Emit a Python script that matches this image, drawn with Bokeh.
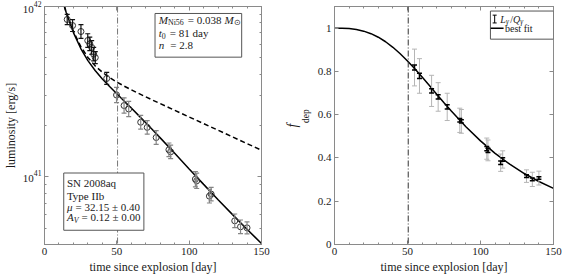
import math
from bokeh.plotting import figure
from bokeh.layouts import row
from bokeh.models import (Range1d, FixedTicker, LinearAxis, LogAxis, Span, Label,
                          BoxAnnotation, Whisker, ColumnDataSource, Arrow, TeeHead,
                          CustomJSTickFormatter)
from bokeh.embed import file_html
from bokeh.resources import INLINE

FONT = "Liberation Serif"

# ---------------- data ----------------
t_lum = [15.7, 19.4, 25.2, 29.9, 31.3, 32.6, 34.0, 35.1, 43.0, 49.8, 55.0, 58.2, 66.5,
         71.0, 77.2, 86.0, 87.2, 104.3, 105.2, 114.0, 115.2, 131.5, 135.5, 140.0]
lum = [8.39e41, 7.73e41, 7.13e41, 6.31e41, 6.03e41, 5.75e41, 5.25e41, 5.01e41, 3.78e41,
       3.02e41, 2.62e41, 2.50e41, 2.09e41, 1.95e41, 1.70e41, 1.44e41, 1.40e41, 9.68e40,
       9.46e40, 7.69e40, 7.91e40, 5.51e40, 5.08e40, 5.01e40]
lum_err_dex = [0.03, 0.035, 0.04, 0.04, 0.04, 0.04, 0.04, 0.035, 0.035, 0.045, 0.045, 0.045,
               0.04, 0.04, 0.04, 0.04, 0.04, 0.045, 0.045, 0.04, 0.04, 0.04, 0.04, 0.035]

t_model = [12, 15, 20, 25, 30, 35, 40, 45, 50, 55, 60, 65, 70, 75, 80, 90, 100, 110, 120,
           130, 140, 150]
lum_full_trap = [1.121e42, 9.274e41, 7.129e41, 5.832e41, 5.019e41, 4.483e41, 4.107e41,
                 3.825e41, 3.600e41, 3.409e41, 3.241e41, 3.088e41, 2.946e41, 2.813e41,
                 2.688e41, 2.456e41, 2.244e41, 2.051e41, 1.875e41, 1.714e41, 1.566e41,
                 1.431e41]
lum_best_fit = [1.117e42, 9.216e41, 7.029e41, 5.685e41, 4.812e41, 4.209e41, 3.754e41,
                3.386e41, 3.071e41, 2.789e41, 2.532e41, 2.294e41, 2.076e41, 1.875e41,
                1.692e41, 1.373e41, 1.112e41, 9.019e40, 7.335e40, 5.992e40, 4.914e40,
                4.051e40]

t_fdep = [54.8, 58.2, 66.5, 71.0, 77.2, 85.8, 86.9, 104.3, 105.1, 113.8, 115.2, 131.5,
          135.5, 140.0]
fdep = [0.818, 0.779, 0.710, 0.682, 0.636, 0.574, 0.569, 0.443, 0.435, 0.378, 0.393,
        0.316, 0.301, 0.307]
fdep_err_stat = [0.012, 0.012, 0.010, 0.010, 0.010, 0.008, 0.008, 0.010, 0.010, 0.008,
                 0.008, 0.006, 0.006, 0.006]
fdep_err_tot = [0.085, 0.080, 0.072, 0.066, 0.063, 0.056, 0.055, 0.049, 0.048, 0.040,
                0.040, 0.029, 0.033, 0.032]

t_fmodel = [0, 5, 10, 15, 20, 25, 30, 35, 40, 45, 50, 55, 60, 65, 70, 75, 80, 90, 100,
            110, 120, 130, 140, 150]
fdep_best_fit = [1.0, 0.9997, 0.998, 0.9937, 0.986, 0.9743, 0.958, 0.9371, 0.9115, 0.8817,
                 0.8483, 0.8121, 0.7739, 0.7346, 0.6949, 0.6556, 0.6171, 0.5443, 0.4788,
                 0.4212, 0.3711, 0.3281, 0.2911, 0.2594]

t_cut = 50.5
x_ticks = [0, 50, 100, 150]
y_ticks_lum = [1e41, 1e42]
y_ticks_f = [0, 0.2, 0.4, 0.6, 0.8, 1]

# ---------------- helpers ----------------
AX = "#8a8a8a"
TXT = "#1a1a1a"

WR = {' ': 0.25, '.': 0.25, '=': 0.564, '±': 0.564, '/': 0.278, 'a': 0.444, 'd': 0.5,
      'y': 0.5, 'N': 0.722, 'i': 0.278, '⊙': 0.8, 'e': 0.444, 'p': 0.5}
WI = {'M': 0.833, 't': 0.278, 'n': 0.5, 'μ': 0.55, 'A': 0.611, 'V': 0.611, 'L': 0.556,
      'Q': 0.722, 'γ': 0.45, 'f': 0.3}


def tw(s, size, italic):
    tab = WI if italic else WR
    return sum(tab.get(c, WR.get(c, 0.5)) for c in s) * size


def rich(p, x, y, pieces, size=11):
    """pieces: (text, kind); kind in n, i, sub, subi, gap (text = pixels)."""
    off = 0.0
    for text, kind in pieces:
        if kind == 'gap':
            off += text
            continue
        sub = kind.startswith('sub')
        italic = kind in ('i', 'subi')
        fs = size * 0.72 if sub else size
        p.add_layout(Label(x=x, y=y, x_offset=off, y_offset=-3 if sub else 0, text=text,
                           text_font=FONT, text_font_size=f"{fs:.1f}px",
                           text_font_style="italic" if italic else "normal",
                           text_color=TXT, text_baseline="middle", text_align="left"))
        off += tw(text, fs, italic) + (1.0 if sub else 0.0)


def style_axis(ax):
    ax.axis_line_color = AX
    ax.major_tick_line_color = AX
    ax.minor_tick_line_color = AX
    ax.major_tick_in = 4
    ax.major_tick_out = 0
    ax.minor_tick_in = 2
    ax.minor_tick_out = 0
    ax.major_label_text_font = FONT
    ax.major_label_text_color = TXT
    ax.major_label_text_font_size = "11px"
    ax.major_label_standoff = 3
    ax.axis_label_text_font = FONT
    ax.axis_label_text_font_size = "12px"
    ax.axis_label_text_font_style = "normal"
    ax.axis_label_text_color = TXT
    ax.axis_label_standoff = 2


def mirror_axis(cls, ticker):
    ax = cls(ticker=ticker, formatter=CustomJSTickFormatter(code="return ''"))
    style_axis(ax)
    ax.major_label_standoff = 0
    ax.major_label_text_font_size = "1px"
    return ax


def make_fig(width, y_range, log, left_border, right_border):
    p = figure(width=width, height=277, x_range=Range1d(0, 150), y_range=y_range,
               y_axis_type="log" if log else "linear", output_backend="svg",
               toolbar_location=None, min_border_left=left_border,
               min_border_right=right_border, min_border_top=6, min_border_bottom=33)
    p.xgrid.visible = False
    p.ygrid.visible = False
    p.outline_line_color = AX
    p.background_fill_color = "white"
    p.border_fill_color = "white"
    return p


x_minor = list(range(0, 151, 10))

# ---------------- left panel ----------------
p1 = make_fig(281, Range1d(4e40, 1e42), True, 39, 20)
lum_minor = [m * 1e40 for m in range(4, 10)] + [m * 1e41 for m in range(2, 10)]
p1.xaxis.ticker = FixedTicker(ticks=x_ticks, minor_ticks=x_minor)
p1.yaxis.ticker = FixedTicker(ticks=y_ticks_lum, minor_ticks=lum_minor)
p1.xaxis.axis_label = "time since explosion [day]"
p1.yaxis.axis_label = "luminosity [erg/s]"
style_axis(p1.xaxis[0])
style_axis(p1.yaxis[0])
p1.add_layout(mirror_axis(LinearAxis, FixedTicker(ticks=x_ticks, minor_ticks=x_minor)), "above")
p1.add_layout(mirror_axis(LogAxis, FixedTicker(ticks=y_ticks_lum, minor_ticks=lum_minor)), "right")

p1.add_layout(Span(location=t_cut, dimension="height", line_color="#777777",
                   line_dash="6 2 1 2", line_width=1))

p1.line(t_model, lum_full_trap, line_color="black", line_width=1.5, line_dash="5 3")
p1.line(t_model, lum_best_fit, line_color="black", line_width=1.5)

lo = [v / 10 ** e for v, e in zip(lum, lum_err_dex)]
hi = [v * 10 ** e for v, e in zip(lum, lum_err_dex)]
n_early = 9
src_e = ColumnDataSource(dict(t=t_lum[:n_early], lo=lo[:n_early], hi=hi[:n_early]))
src_l = ColumnDataSource(dict(t=t_lum[n_early:], lo=lo[n_early:], hi=hi[n_early:]))
for src, col in ((src_e, "#111111"), (src_l, "#858585")):
    p1.add_layout(Whisker(source=src, base="t", lower="lo", upper="hi", dimension="height",
                          line_color=col, line_width=1.2, level="glyph",
                          upper_head=TeeHead(size=5, line_color=col, line_width=1.2),
                          lower_head=TeeHead(size=5, line_color=col, line_width=1.2)))
p1.scatter(t_lum, lum, marker="circle", size=6, fill_color=None, line_color="#333333",
           line_width=1)

# text box (top right)
p1.add_layout(BoxAnnotation(left=76.4, right=136.3, bottom=5.04e41, top=9.1e41,
                            fill_color="white", fill_alpha=1, line_color="#555555",
                            line_width=1, line_alpha=1))
rich(p1, 79, 8.36e41, [("M", 'i'), ("Ni56", 'sub'), (3.0, 'gap'), ("= 0.038", 'n'),
                       (3.0, 'gap'), ("M", 'i'), ("⊙", 'sub')])
rich(p1, 79, 6.97e41, [("t", 'i'), ("0", 'sub'), (3.0, 'gap'), ("= 81 day", 'n')])
rich(p1, 79, 5.97e41, [("n", 'i'), (6.0, 'gap'), ("= 2.8", 'n')])

# text box (bottom left)
p1.add_layout(BoxAnnotation(left=13.3, right=68.7, bottom=4.85e40, top=1.052e41,
                            fill_color="white", fill_alpha=1, line_color="#555555",
                            line_width=1, line_alpha=1))
rich(p1, 15.5, 9.14e40, [("SN 2008aq", 'n')])
rich(p1, 15.5, 7.73e40, [("Type IIb", 'n')])
rich(p1, 15.5, 6.67e40, [("μ", 'i'), (2.5, 'gap'), ("= 32.15 ± 0.40", 'n')])
rich(p1, 15.5, 5.77e40, [("A", 'i'), ("V", 'subi'), (2.0, 'gap'), ("= 0.12 ± 0.00", 'n')])

# ---------------- right panel ----------------
p2 = make_fig(281, Range1d(0, 1.1), False, 51, 9)
p2.xaxis.ticker = FixedTicker(ticks=x_ticks, minor_ticks=x_minor)
p2.yaxis.ticker = FixedTicker(ticks=y_ticks_f)
p2.yaxis.major_label_overrides = {0: "0", 1: "1"}
p2.xaxis.axis_label = "time since explosion [day]"
style_axis(p2.xaxis[0])
style_axis(p2.yaxis[0])
p2.add_layout(mirror_axis(LinearAxis, FixedTicker(ticks=x_ticks, minor_ticks=x_minor)), "above")
p2.add_layout(mirror_axis(LinearAxis, FixedTicker(ticks=y_ticks_f)), "right")

# y-axis title f_dep: an extra, line-less axis whose single tick label is the subscript
ylab = LinearAxis(ticker=FixedTicker(ticks=[0.625]),
                  formatter=CustomJSTickFormatter(code="return 'dep'"))
ylab.axis_line_color = None
ylab.major_tick_line_color = None
ylab.minor_tick_line_color = None
ylab.major_tick_in = 0
ylab.major_tick_out = 0
ylab.minor_tick_out = 0
ylab.major_label_orientation = math.pi / 2
ylab.major_label_text_font = FONT
ylab.major_label_text_font_size = "9.5px"
ylab.major_label_text_color = TXT
ylab.major_label_standoff = 8
ylab.axis_label = "f"
ylab.axis_label_orientation = "parallel"
ylab.axis_label_text_font = FONT
ylab.axis_label_text_font_size = "14px"
ylab.axis_label_text_font_style = "italic"
ylab.axis_label_text_color = TXT
ylab.axis_label_standoff = -6
p2.add_layout(ylab, "left")

p2.add_layout(Span(location=t_cut, dimension="height", line_color="#333333",
                   line_dash="6 2 1 2", line_width=1))

src_tot = ColumnDataSource(dict(t=t_fdep, lo=[f - e for f, e in zip(fdep, fdep_err_tot)],
                                hi=[f + e for f, e in zip(fdep, fdep_err_tot)]))
src_st = ColumnDataSource(dict(t=t_fdep, lo=[f - e for f, e in zip(fdep, fdep_err_stat)],
                               hi=[f + e for f, e in zip(fdep, fdep_err_stat)]))
p2.add_layout(Whisker(source=src_tot, base="t", lower="lo", upper="hi", dimension="height",
                      line_color="#b5b5b5", line_width=1, level="glyph",
                      upper_head=TeeHead(size=5, line_color="#b5b5b5", line_width=1),
                      lower_head=TeeHead(size=5, line_color="#b5b5b5", line_width=1)))
p2.line(t_fmodel, fdep_best_fit, line_color="black", line_width=1.5)
p2.add_layout(Whisker(source=src_st, base="t", lower="lo", upper="hi", dimension="height",
                      line_color="black", line_width=1.5, level="overlay",
                      upper_head=TeeHead(size=5, line_color="black", line_width=1.5),
                      lower_head=TeeHead(size=5, line_color="black", line_width=1.5)))

# legend
p2.add_layout(BoxAnnotation(left=106.8, right=150, bottom=0.949, top=1.079,
                            fill_color="white", fill_alpha=1, line_color="#555555",
                            line_width=1, line_alpha=1))
p2.add_layout(Arrow(x_start=109.7, y_start=1.024, x_end=109.7, y_end=1.06,
                    line_color="black", line_width=1,
                    start=TeeHead(size=4, line_color="black", line_width=1),
                    end=TeeHead(size=4, line_color="black", line_width=1)))
rich(p2, 113.6, 1.042, [("L", 'i'), ("γ", 'subi'), ("/", 'n'), ("Q", 'i'), ("γ", 'subi')],
     size=10)
p2.add_layout(Arrow(x_start=107.0, y_start=1.0, x_end=115.8, y_end=1.0,
                    line_color="black", line_width=1.5, end=None))
rich(p2, 116.8, 1.0, [("best fit", 'n')], size=10)

layout = row(p1, p2)
open("out.html", "w").write(file_html(layout, INLINE))
